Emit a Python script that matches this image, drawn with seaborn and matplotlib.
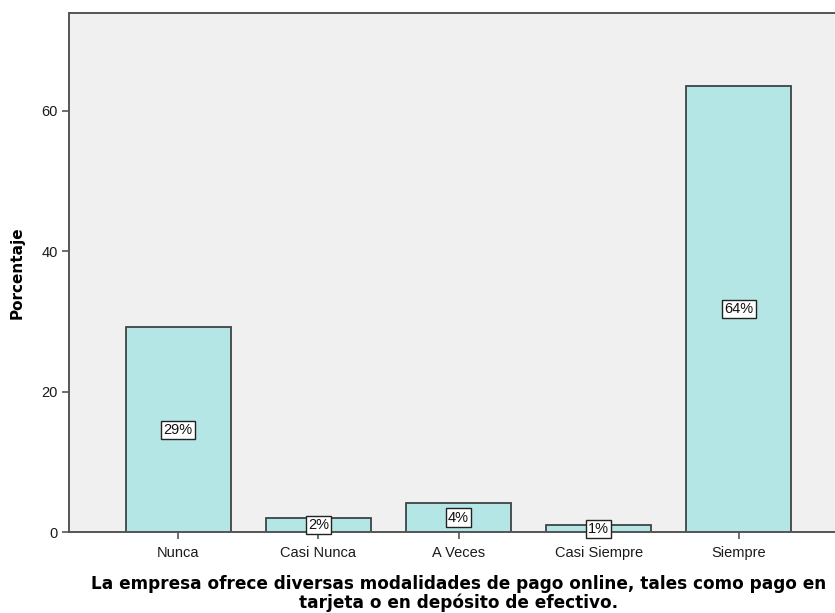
import matplotlib
matplotlib.use("Agg")
import matplotlib.pyplot as plt
import seaborn as sns
import pandas as pd

categorias = ["Nunca", "Casi Nunca", "A Veces", "Casi Siempre", "Siempre"]
porcentajes = [29.2, 2.1, 4.2, 1.0, 63.5]
yticks = [0, 20, 40, 60]
titulo_x = ("La empresa ofrece diversas modalidades de pago online, tales como pago en\n"
            "tarjeta o en depósito de efectivo.")

df = pd.DataFrame({"categoria": categorias, "porcentaje": porcentajes})

sns.set_style("white")
plt.rcParams["font.family"] = ["Liberation Sans", "DejaVu Sans"]

fig = plt.figure(figsize=(8.35, 6.13), dpi=100)
ax = fig.add_axes([69 / 835, 80.7 / 613, 779 / 835, 519.3 / 613])
ax.set_facecolor("#F0F0F0")

sns.barplot(data=df, x="categoria", y="porcentaje", order=categorias,
            color="#B4E6E6", saturation=1, width=0.75,
            edgecolor="#3F4444", linewidth=1.3, ax=ax)

ax.set_xlim(-0.779, 4.779)
ax.set_ylim(0, 73.9)
ax.set_yticks(yticks)

for side in ("left", "top", "bottom"):
    ax.spines[side].set_color("#555555")
    ax.spines[side].set_linewidth(1.4)
ax.spines["right"].set_visible(False)

ax.tick_params(axis="both", which="both", direction="out", length=5, width=1.2,
               color="#555555", labelsize=10.5, labelcolor="#1A1A1A", pad=3,
               left=True, bottom=True)
ax.tick_params(axis="x", pad=5)

labels = [f"{round(v)}%" for v in porcentajes]
ax.bar_label(ax.containers[0], labels=labels, label_type="center", fontsize=10.5,
             color="#111111",
             bbox=dict(boxstyle="square,pad=0.15", facecolor="white",
                       edgecolor="#222222", linewidth=1.0))

ax.set_ylabel("Porcentaje", fontsize=11, fontweight="bold", family="DejaVu Sans",
              color="black", labelpad=12)
ax.set_xlabel(titulo_x, fontsize=12.2, fontweight="bold", family="DejaVu Sans",
              color="black", labelpad=11, linespacing=1.0)

fig.savefig("out.png", dpi=100)
